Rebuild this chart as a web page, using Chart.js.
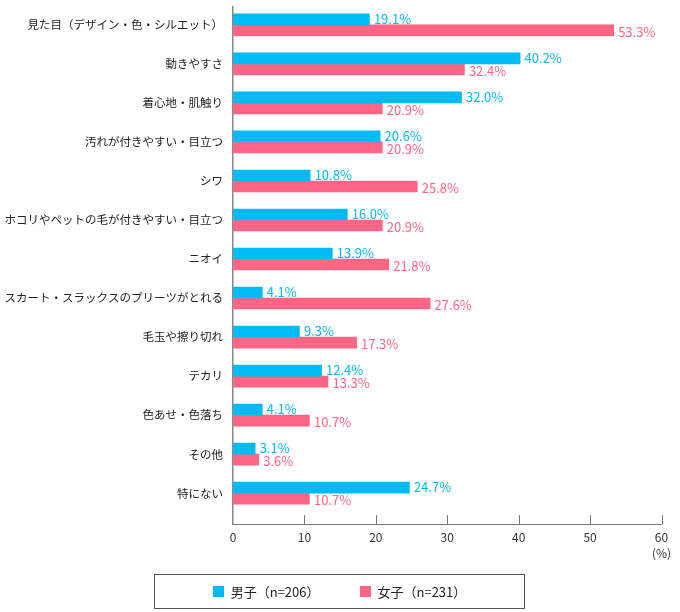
<!DOCTYPE html>
<html>
<head>
<meta charset="utf-8">
<script src="https://cdn.jsdelivr.net/npm/chart.js@4/dist/chart.umd.min.js"></script>
<style>
  body { margin: 0; background: #fff; }
  #wrap { position: relative; width: 680px; height: 612px; }
  #legend {
    position: absolute; left: 154px; top: 574px; width: 369px; height: 33px;
    border: 1.5px solid #555; display: flex; align-items: center; justify-content: center;
    font: 13px "Noto Sans CJK JP", sans-serif; color: #222;
  }
  #legend span.box { display: inline-block; width: 11px; height: 11px; margin-right: 7px; }
  #legend span.item { display: inline-flex; align-items: center; margin: 0 20px; }
</style>
</head>
<body>
<div id="wrap">
  <canvas id="c1"></canvas>
  <div id="legend"></div>
</div>
<script>
// categories (top to bottom)
var categories = [
  "見た目（デザイン・色・シルエット）",
  "動きやすさ",
  "着心地・肌触り",
  "汚れが付きやすい・目立つ",
  "シワ",
  "ホコリやペットの毛が付きやすい・目立つ",
  "ニオイ",
  "スカート・スラックスのプリーツがとれる",
  "毛玉や擦り切れ",
  "テカリ",
  "色あせ・色落ち",
  "その他",
  "特にない"
];
var boys = [19.1, 40.2, 32.0, 20.6, 10.8, 16.0, 13.9, 4.1, 9.3, 12.4, 4.1, 3.1, 24.7];
var girls = [53.3, 32.4, 20.9, 20.9, 25.8, 20.9, 21.8, 27.6, 17.3, 13.3, 10.7, 3.6, 10.7];
var seriesNames = ["男子（n=206）", "女子（n=231）"];
var colors = ["#00bbf1", "#ff6584"];
var xTicks = [0, 10, 20, 30, 40, 50, 60];

var font = '"Noto Sans CJK JP", sans-serif';
var yMin = -0.46, yMax = 12.792;

// value labels right of each bar
var valueLabels = {
  id: "valueLabels",
  afterDatasetsDraw: function (chart) {
    var ctx = chart.ctx;
    ctx.save();
    ctx.font = "13px " + font;
    ctx.textBaseline = "middle";
    ctx.textAlign = "left";
    chart.data.datasets.forEach(function (ds, di) {
      var meta = chart.getDatasetMeta(di);
      meta.data.forEach(function (bar, i) {
        ctx.fillStyle = colors[di];
        ctx.fillText(ds.data[i].x.toFixed(1) + "%", bar.x + 4.5, bar.y + (di ? 1.5 : -0.5));
      });
    });
    ctx.restore();
  }
};

// tick marks pointing into the plot
var innerTicks = {
  id: "innerTicks",
  afterDraw: function (chart) {
    var ctx = chart.ctx;
    var sc = chart.scales.x;
    var b = chart.chartArea.bottom;
    ctx.save();
    ctx.strokeStyle = "#777";
    ctx.lineWidth = 1;
    xTicks.forEach(function (v) {
      if (v == 0) return;
      var px = Math.round(sc.getPixelForValue(v)) + 0.5;
      ctx.beginPath();
      ctx.moveTo(px, b - 9);
      ctx.lineTo(px, b);
      ctx.stroke();
    });
    ctx.restore();
  }
};

var ctx = document.getElementById("c1").getContext("2d");
var chart = new Chart(ctx, {
  type: "bar",
  data: {
    datasets: [
      {
        label: seriesNames[0],
        data: boys.map(function (v, i) { return { x: v, y: i }; }),
        backgroundColor: colors[0]
      },
      {
        label: seriesNames[1],
        data: girls.map(function (v, i) { return { x: v, y: i }; }),
        backgroundColor: colors[1]
      }
    ]
  },
  options: {
    indexAxis: "y",
    responsive: true,
    maintainAspectRatio: false,
    animation: false,
    barThickness: 11,
    layout: { padding: { top: 0, right: 18.5, bottom: 50, left: 0 } },
    plugins: { legend: { display: false }, tooltip: { enabled: false } },
    scales: {
      x: {
        type: "linear",
        min: 0,
        max: 60,
        afterBuildTicks: function (s) {
          s.ticks = xTicks.map(function (v) { return { value: v }; });
        },
        ticks: {
          color: "#333",
          padding: 1,
          autoSkip: false,
          maxRotation: 0,
          font: { family: font, size: 12, lineHeight: 1.33 },
          callback: function (v) { return v == 60 ? ["60", "(%)"] : String(v); }
        },
        grid: { display: true, drawOnChartArea: false, drawTicks: true, tickLength: 4, tickColor: "transparent" },
        border: { display: true, color: "#777", width: 1 }
      },
      y: {
        type: "linear",
        reverse: true,
        offset: false,
        min: yMin,
        max: yMax,
        afterBuildTicks: function (s) {
          var t = [{ value: yMin }];
          categories.forEach(function (c, i) { t.push({ value: i }); });
          t.push({ value: yMax });
          s.ticks = t;
        },
        afterFit: function (s) { s.width = 233; },
        ticks: {
          color: "#222",
          padding: 0,
          autoSkip: false,
          font: { family: font, size: 11.5 },
          callback: function (v) {
            return Number.isInteger(v) && categories[v] ? categories[v] : null;
          }
        },
        grid: { display: true, offset: false, drawOnChartArea: false, drawTicks: true, tickLength: 10, tickColor: "transparent" },
        border: { display: true, color: "#888", width: 1.5 }
      }
    }
  },
  plugins: [valueLabels, innerTicks]
});

// legend box under the chart
var lg = document.getElementById("legend");
seriesNames.forEach(function (n, i) {
  var it = document.createElement("span");
  it.className = "item";
  it.innerHTML = '<span class="box" style="background:' + colors[i] + '"></span>' + n;
  lg.appendChild(it);
});
</script>
</body>
</html>
